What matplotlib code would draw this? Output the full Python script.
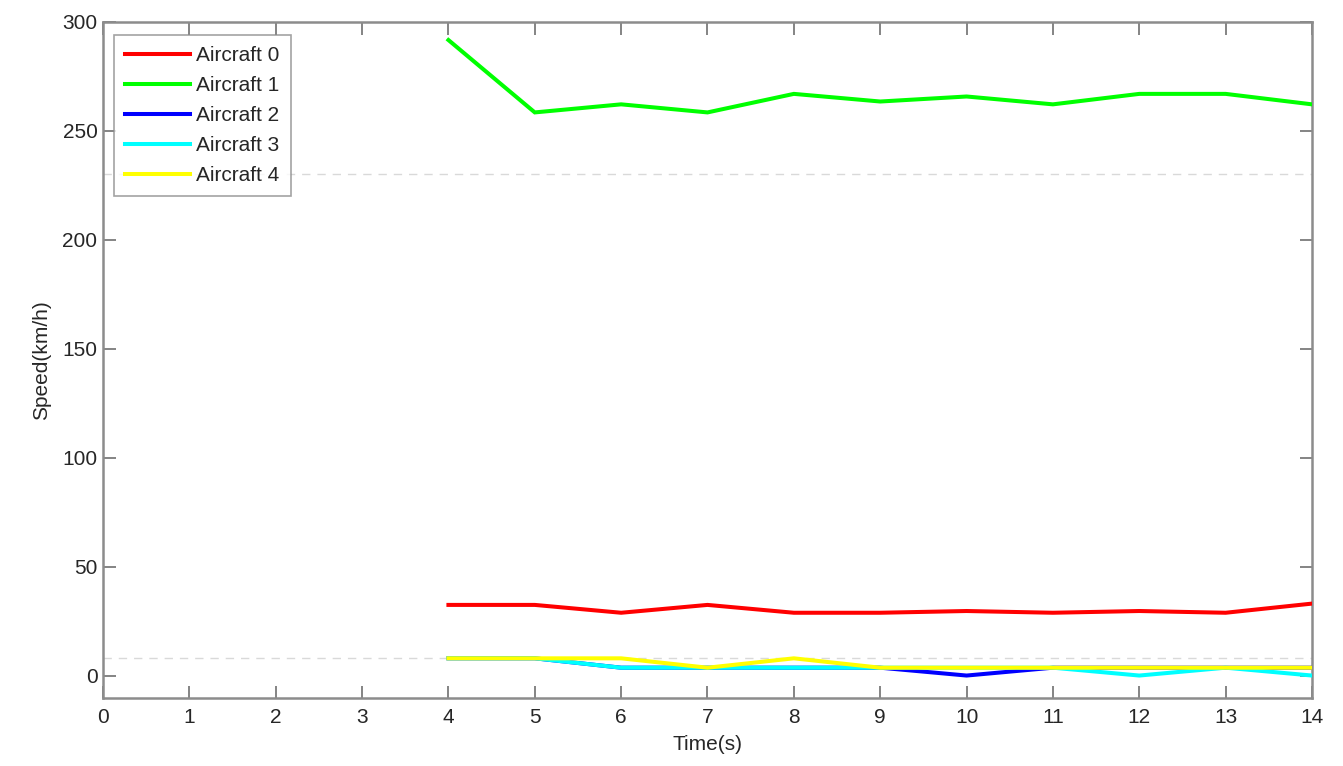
import matplotlib
matplotlib.use("Agg")
import matplotlib.pyplot as plt

plt.rcParams['font.family'] = ['Liberation Sans', 'DejaVu Sans']

time_s = [4, 5, 6, 7, 8, 9, 10, 11, 12, 13, 14]
aircraft0 = [32.4, 32.4, 28.8, 32.4, 28.8, 28.8, 29.6, 28.8, 29.6, 28.8, 33.0]
aircraft1 = [291.5, 258.3, 262.0, 258.3, 266.8, 263.3, 265.6, 262.0, 266.8, 266.8, 262.0]
aircraft2 = [7.9, 7.9, 3.6, 3.6, 3.6, 3.6, 0.0, 3.6, 3.6, 3.6, 3.6]
aircraft3 = [7.9, 7.9, 3.6, 3.6, 3.6, 3.6, 3.6, 3.6, 0.0, 3.6, 0.0]
aircraft4 = [7.9, 7.9, 7.9, 3.6, 7.9, 3.6, 3.6, 3.6, 3.6, 3.6, 3.6]
labels = ["Aircraft 0", "Aircraft 1", "Aircraft 2", "Aircraft 3", "Aircraft 4"]
colors = ["#ff0000", "#00ff00", "#0000ff", "#00ffff", "#ffff00"]
ref_lines = [230, 8]
x_ticks = list(range(0, 15))
y_ticks = [0, 50, 100, 150, 200, 250, 300]

FS = 15

fig = plt.figure(figsize=(13.43, 7.66), dpi=100)
ax = fig.add_axes([103/1343, 1 - 698/766, (1312-103)/1343, (698-21.5)/766])

for yv in ref_lines:
    ax.axhline(yv, color="#d9d9d9", lw=1.0, ls=(0, (6, 5)), zorder=1)

series = [aircraft0, aircraft1, aircraft2, aircraft3, aircraft4]
for s, lab, c in zip(series, labels, colors):
    ax.plot(time_s, s, color=c, lw=2.9, label=lab, zorder=3, solid_joinstyle='miter')

ax.set_xlim(0, 14)
ax.set_ylim(-10.3, 300)
ax.set_xticks(x_ticks)
ax.set_yticks(y_ticks)
ax.tick_params(direction='in', length=9, width=1.2, color='#707070',
               top=True, right=True, labelsize=FS, labelcolor='#262626')
ax.tick_params(axis='y', pad=4)
ax.tick_params(axis='x', pad=7)
for sp in ax.spines.values():
    sp.set_color('#8c8c8c')
    sp.set_linewidth(1.8)

ax.set_xlabel("Time(s)", fontsize=FS, color='#262626', labelpad=6)
ax.set_ylabel("Speed(km/h)", fontsize=FS, color='#262626', labelpad=8)

leg = ax.legend(loc='upper left', bbox_to_anchor=(0.009, 0.98), fontsize=FS,
                frameon=True, fancybox=False, handlelength=3.1, handletextpad=0.3,
                labelspacing=0.52, borderpad=0.55, borderaxespad=0.0)
leg.get_frame().set_edgecolor('#8c8c8c')
leg.get_frame().set_linewidth(1.2)
for t in leg.get_texts():
    t.set_color('#262626')

fig.savefig("out.png", dpi=100)
